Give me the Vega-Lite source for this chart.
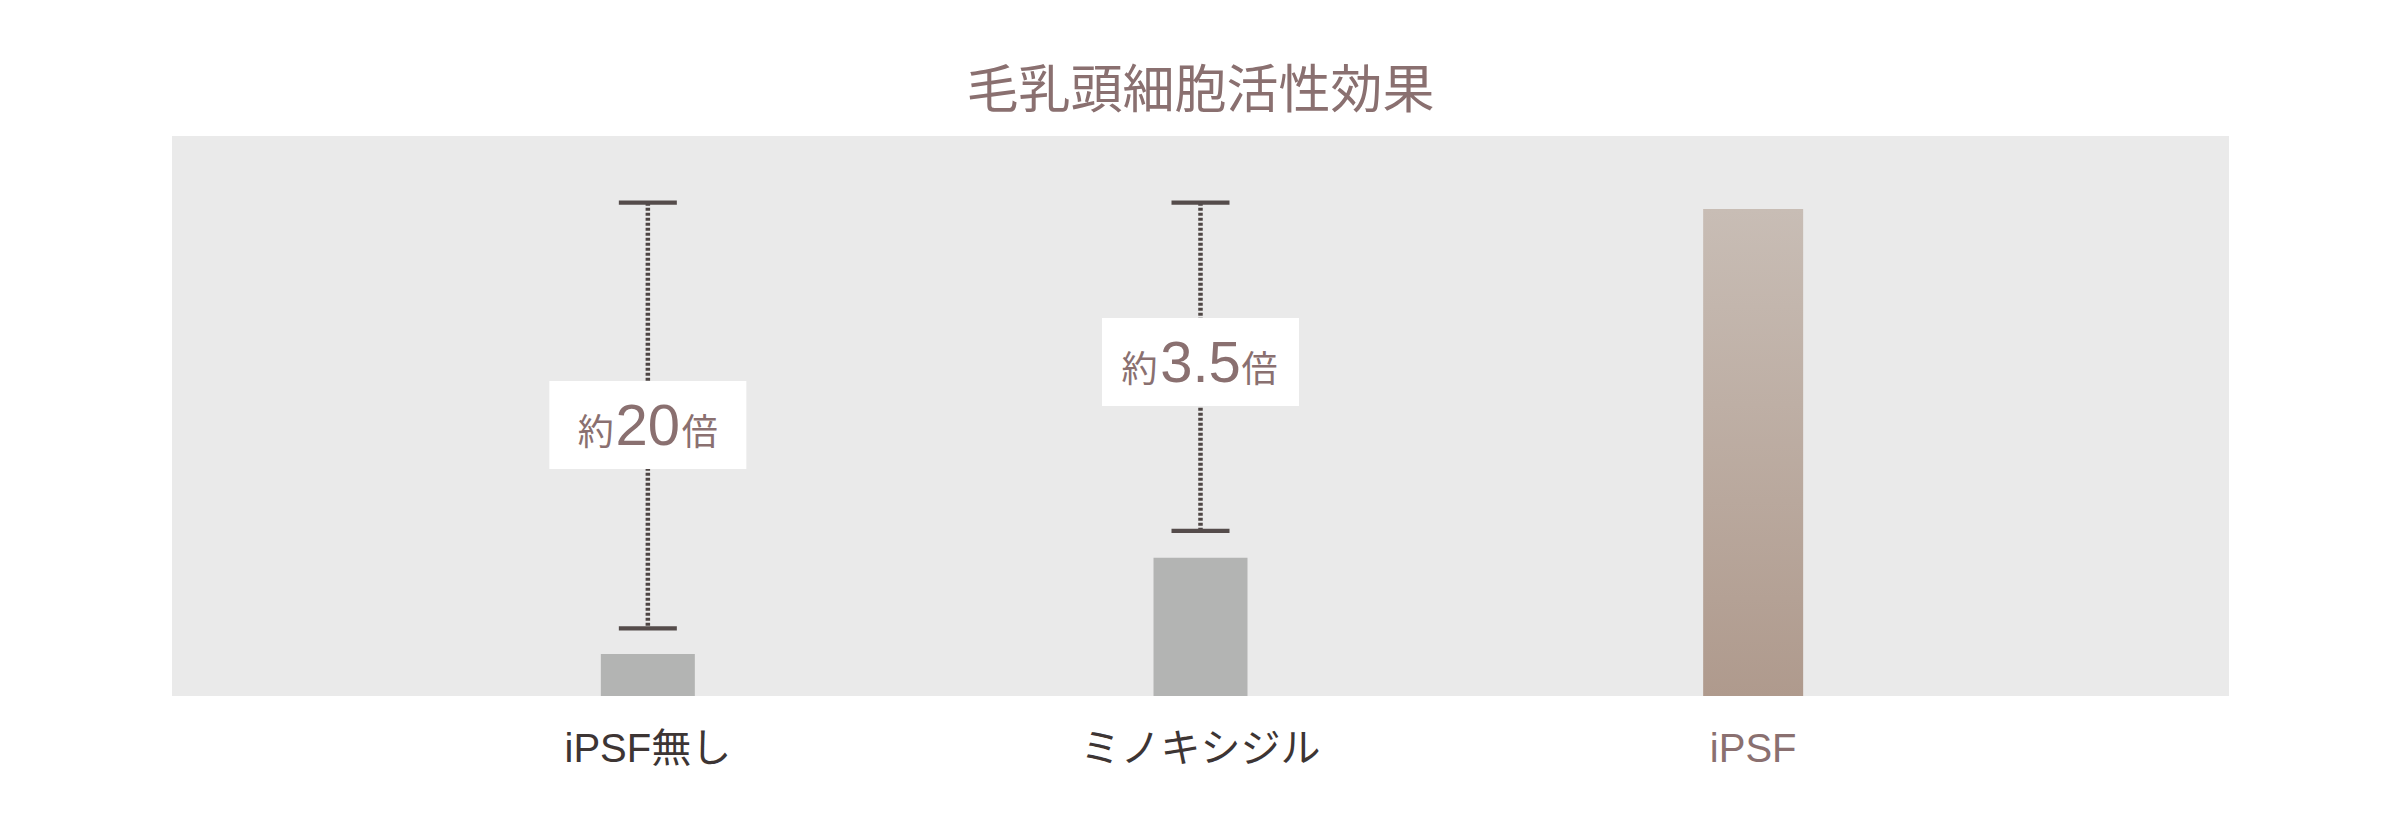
{
  "$schema": "https://vega.github.io/schema/vega-lite/v6.json",
  "width": 2057,
  "height": 560,
  "autosize": {"type": "none"},
  "padding": {"left": 172, "top": 136, "right": 171, "bottom": 132},
  "background": "#ffffff",
  "view": {"fill": "#eaeaea", "stroke": null},
  "config": {"font": "Liberation Sans, Noto Sans CJK JP"},
  "title": {
    "text": "毛乳頭細胞活性効果",
    "fontSize": 52,
    "fontWeight": "normal",
    "font": "Noto Sans CJK JP",
    "color": "#8a7070",
    "anchor": "middle",
    "baseline": "alphabetic",
    "offset": 28,
    "dy": 52
  },
  "datasets": {
    "bars": [
      {"cat": "iPSF無し", "value": 0.86},
      {"cat": "ミノキシジル", "value": 2.84},
      {"cat": "iPSF", "value": 10}
    ],
    "err": [
      {"cat": "iPSF無し", "lo": 1.39, "hi": 10.13},
      {"cat": "ミノキシジル", "lo": 3.39, "hi": 10.13}
    ],
    "labels": [
      {"cat": "iPSF無し", "prefix": "約", "num": "20", "suffix": "倍", "ty": 5.154, "boxTop": 6.47, "boxBottom": 4.66},
      {"cat": "ミノキシジル", "prefix": "約", "num": "3.5", "suffix": "倍", "ty": 6.454, "boxTop": 7.76, "boxBottom": 5.955}
    ]
  },
  "encoding": {
    "x": {
      "field": "cat",
      "type": "nominal",
      "sort": ["iPSF無し", "ミノキシジル", "iPSF"],
      "scale": {"domain": ["iPSF無し", "ミノキシジル", "iPSF"], "paddingInner": 0, "paddingOuter": 0.361},
      "axis": {
        "title": null,
        "ticks": false,
        "tickSize": 0,
        "domain": false,
        "labelAngle": 0,
        "labelFontSize": 40,
        "labelLimit": 0,
        "labelFont": "Liberation Sans, Noto Sans CJK JP",
        "labelBaseline": "alphabetic",
        "labelPadding": 65,
        "labelColor": {"condition": {"test": "datum.value === 'iPSF'", "value": "#8a7070"}, "value": "#3d3534"},
        "grid": false
      }
    }
  },
  "layer": [
    {
      "data": {"name": "bars"},
      "transform": [{"filter": "datum.cat !== 'iPSF'"}],
      "mark": {"type": "bar", "width": 94, "color": "#b3b4b3"},
      "encoding": {
        "y": {"field": "value", "type": "quantitative", "scale": {"domain": [0, 11.5], "nice": false, "zero": true}, "axis": null}
      }
    },
    {
      "data": {"name": "bars"},
      "transform": [{"filter": "datum.cat === 'iPSF'"}],
      "mark": {
        "type": "bar",
        "width": 100,
        "color": {
          "gradient": "linear",
          "x1": 0, "y1": 0, "x2": 0, "y2": 1,
          "stops": [
            {"offset": 0, "color": "#c8bdb5"},
            {"offset": 1, "color": "#af9a8d"}
          ]
        }
      },
      "encoding": {
        "y": {"field": "value", "type": "quantitative"}
      }
    },
    {
      "data": {"name": "err"},
      "mark": {"type": "rule", "color": "#4e4644", "strokeWidth": 4.5, "strokeDash": [3, 2], "strokeCap": "butt"},
      "encoding": {
        "y": {"field": "hi", "type": "quantitative"},
        "y2": {"field": "lo"}
      }
    },
    {
      "data": {"name": "err"},
      "mark": {"type": "tick", "orient": "horizontal", "color": "#554c4b", "size": 58, "thickness": 4.3, "opacity": 1},
      "encoding": {
        "y": {"field": "hi", "type": "quantitative"}
      }
    },
    {
      "data": {"name": "err"},
      "mark": {"type": "tick", "orient": "horizontal", "color": "#554c4b", "size": 58, "thickness": 4.3, "opacity": 1},
      "encoding": {
        "y": {"field": "lo", "type": "quantitative"}
      }
    },
    {
      "data": {"name": "labels"},
      "mark": {"type": "bar", "width": 197, "color": "#ffffff"},
      "encoding": {
        "y": {"field": "boxTop", "type": "quantitative"},
        "y2": {"field": "boxBottom"}
      }
    },
    {
      "data": {"name": "labels"},
      "mark": {"type": "text", "fontSize": 58, "color": "#8a7070", "baseline": "alphabetic", "align": "center", "font": "Liberation Sans"},
      "encoding": {
        "y": {"field": "ty", "type": "quantitative"},
        "text": {"field": "num"}
      }
    },
    {
      "data": {"name": "labels"},
      "transform": [{"filter": "datum.cat === 'iPSF無し'"}],
      "mark": {"type": "text", "fontSize": 36, "color": "#8a7070", "baseline": "alphabetic", "align": "center", "dx": -52, "font": "Noto Sans CJK JP"},
      "encoding": {
        "y": {"field": "ty", "type": "quantitative"},
        "text": {"field": "prefix"}
      }
    },
    {
      "data": {"name": "labels"},
      "transform": [{"filter": "datum.cat === 'iPSF無し'"}],
      "mark": {"type": "text", "fontSize": 36, "color": "#8a7070", "baseline": "alphabetic", "align": "center", "dx": 52, "font": "Noto Sans CJK JP"},
      "encoding": {
        "y": {"field": "ty", "type": "quantitative"},
        "text": {"field": "suffix"}
      }
    },
    {
      "data": {"name": "labels"},
      "transform": [{"filter": "datum.cat === 'ミノキシジル'"}],
      "mark": {"type": "text", "fontSize": 36, "color": "#8a7070", "baseline": "alphabetic", "align": "center", "dx": -61, "font": "Noto Sans CJK JP"},
      "encoding": {
        "y": {"field": "ty", "type": "quantitative"},
        "text": {"field": "prefix"}
      }
    },
    {
      "data": {"name": "labels"},
      "transform": [{"filter": "datum.cat === 'ミノキシジル'"}],
      "mark": {"type": "text", "fontSize": 36, "color": "#8a7070", "baseline": "alphabetic", "align": "center", "dx": 59, "font": "Noto Sans CJK JP"},
      "encoding": {
        "y": {"field": "ty", "type": "quantitative"},
        "text": {"field": "suffix"}
      }
    }
  ]
}
